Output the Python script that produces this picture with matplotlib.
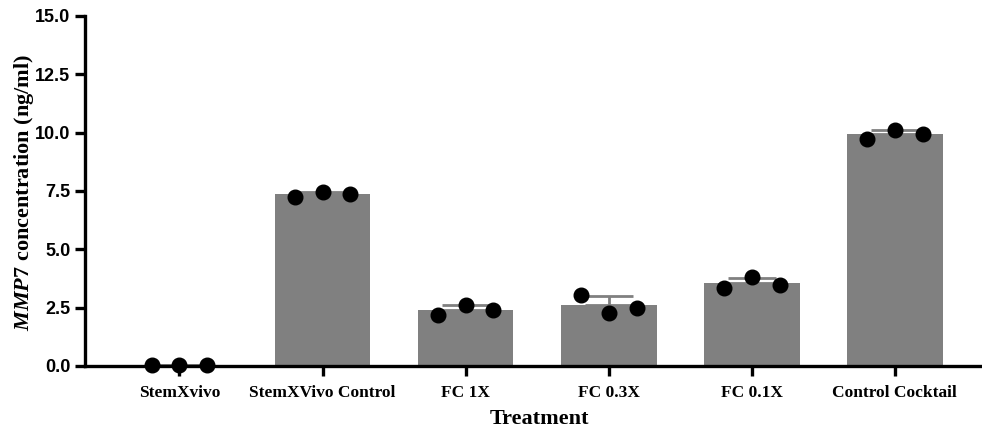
import numpy as np
import matplotlib.pyplot as plt

# data
groups = ['StemXvivo', 'StemXVivo Control', 'FC 1X', 'FC 0.3X', 'FC 0.1X', 'Control Cocktail']
replicates = [
    [0.02, 0.03, 0.02],
    [7.24, 7.47, 7.35],
    [2.17, 2.62, 2.40],
    [3.04, 2.27, 2.48],
    [3.36, 3.80, 3.45],
    [9.74, 10.12, 9.95],
]
y_ticks = [0.0, 2.5, 5.0, 7.5, 10.0, 12.5, 15.0]

plt.rcParams['mathtext.fontset'] = 'custom'
plt.rcParams['mathtext.it'] = 'Liberation Serif:italic:bold'
plt.rcParams['mathtext.rm'] = 'Liberation Serif:bold'

means = [np.mean(r) for r in replicates]
sds = [np.std(r, ddof=1) for r in replicates]
x = np.arange(len(groups))

fig = plt.figure(figsize=(9.82, 4.32), dpi=100)
ax = fig.add_axes([0.0866, 0.153, 0.9134, 0.810])

ax.bar(x, means, width=0.67, color='#808080', zorder=1)
ax.errorbar(x, means, yerr=[np.zeros(len(sds)), sds], fmt='none',
            ecolor='#808080', elinewidth=2, capsize=17, capthick=2, zorder=2)

offsets = [-0.195, 0.0, 0.195]
for i, vals in enumerate(replicates):
    ax.plot(x[i] + np.array(offsets), vals, 'o', color='black',
            markersize=10.5, linestyle='none', zorder=3, clip_on=False)

ax.set_xlim(-0.66, 5.61)
ax.set_ylim(0, 15)
ax.set_yticks(y_ticks)
ax.set_yticklabels([f'{t:.1f}' for t in y_ticks],
                   fontfamily='Liberation Sans', fontweight='bold', fontsize=13)
ax.set_xticks(x)
ax.set_xticklabels(groups, fontfamily='Liberation Serif', fontweight='bold', fontsize=12.5)

for s in ['top', 'right']:
    ax.spines[s].set_visible(False)
for s in ['left', 'bottom']:
    ax.spines[s].set_linewidth(2.4)
ax.tick_params(axis='both', width=2.4, length=7, direction='out')
ax.tick_params(axis='x', pad=7)

ax.set_xlabel('Treatment', fontfamily='Liberation Serif', fontweight='bold', fontsize=16)
ax.xaxis.set_label_coords(0.507, -0.122)
ax.set_ylabel(r'$MMP7$ concentration (ng/ml)', fontfamily='Liberation Serif',
              fontweight='bold', fontsize=16)
ax.yaxis.set_label_coords(-0.055, 0.496)

fig.savefig('out.png', dpi=100)
